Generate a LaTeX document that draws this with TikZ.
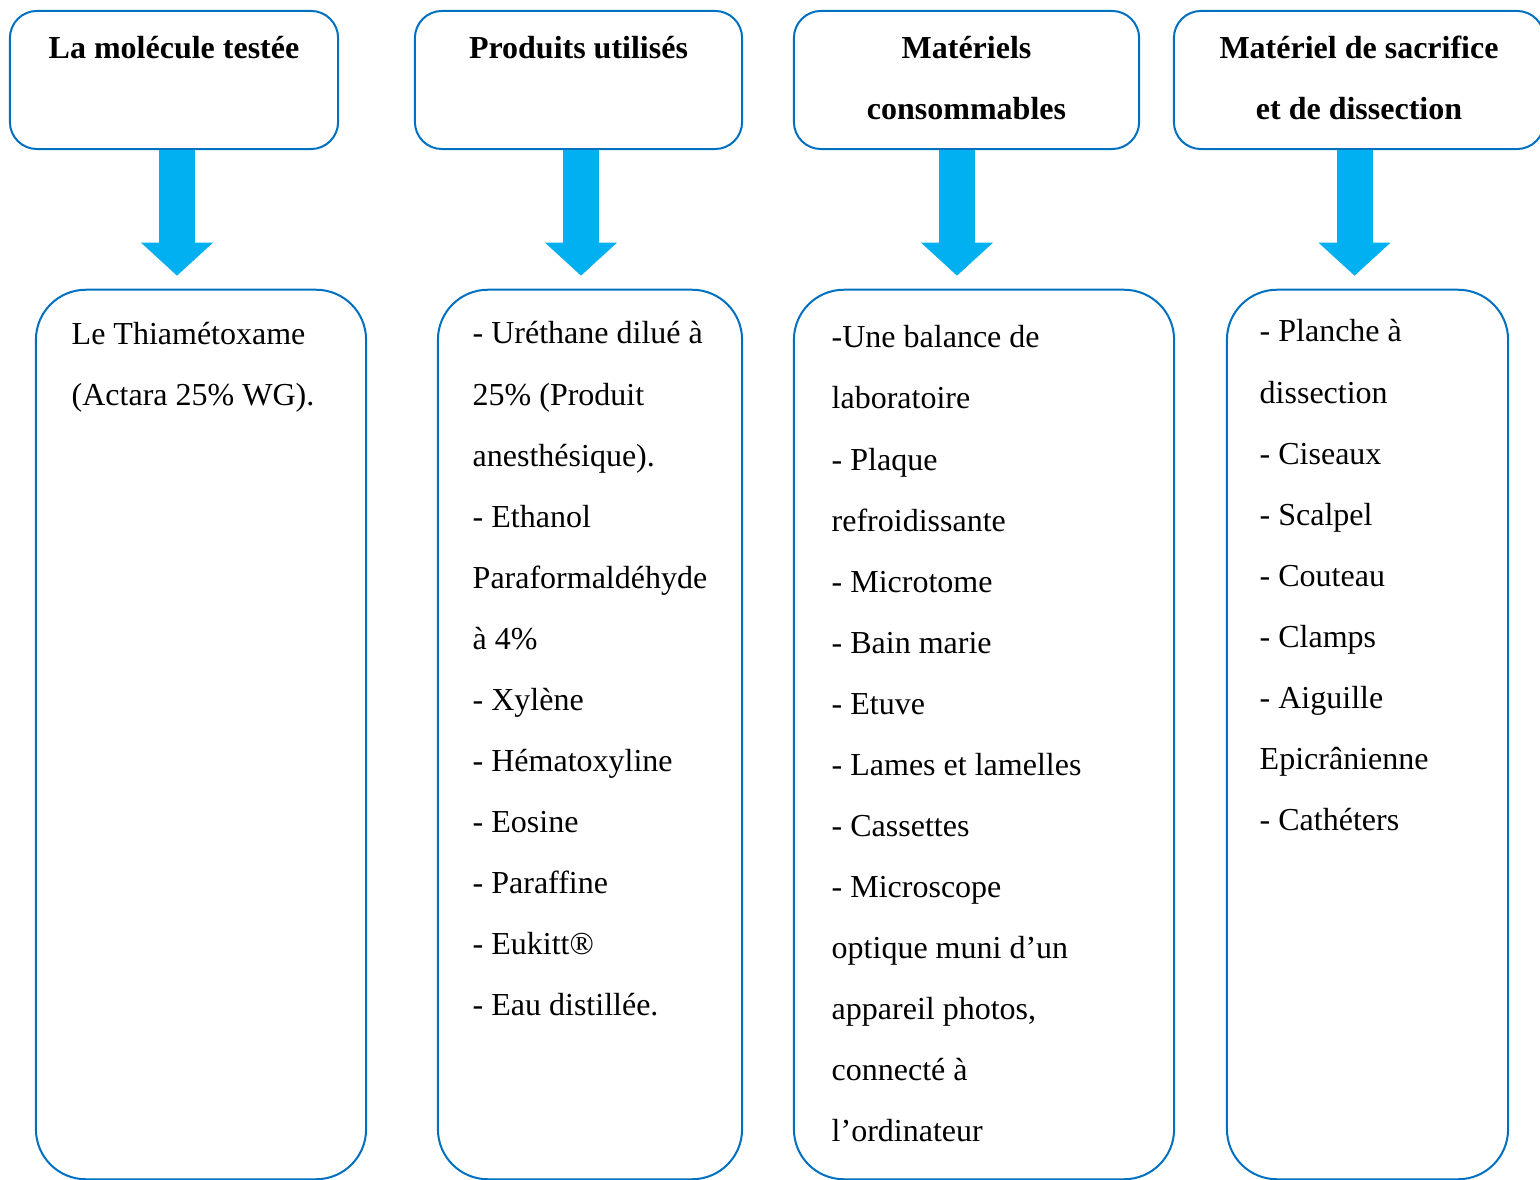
\documentclass[tikz,border=0pt]{standalone}
\usepackage{fontspec}
\setmainfont{Liberation Serif}
\usepackage{xcolor}
\usetikzlibrary{arrows.meta}
\definecolor{boxblue}{HTML}{0070C0}
\definecolor{arrowblue}{HTML}{00B0F0}

\begin{document}
\begin{tikzpicture}[x=0.01cm, y=-0.01cm,
          headbox/.style={draw=boxblue, line width=0.02cm, rounded corners=0.27cm,
            minimum height=1.38cm, inner sep=0pt},
          listbox/.style={draw=boxblue, line width=0.02cm, rounded corners=0.5cm,
            minimum height=8.89cm, inner sep=0pt},
          headtext/.style={font=\bfseries\fontsize{9.1}{17.36}\selectfont,
            align=center, inner sep=0pt, anchor=north},
          listtext/.style={font=\fontsize{9.1}{17.36}\selectfont,
            align=left, inner sep=0pt, anchor=north west},
          bigarrow/.style={arrowblue, line width=0.36cm,
            -{Triangle[width=0.70cm,length=0.33cm]}, shorten >=0.13cm}]
          \clip (0,0) rectangle (1540,1180);

          % top boxes
          \node[headbox, minimum width=3.28cm] (molecule) at (174,80) {};
          \node[headbox, minimum width=3.27cm] (produits) at (578.5,80) {};
          \node[headbox, minimum width=3.45cm] (materiels) at (966.5,80) {};
          \node[headbox, minimum width=3.70cm] (sacrifice) at (1359,80) {};

          \node[headtext] (moleculeT) at (174,36) {La molécule testée};
          \node[headtext] (produitsT) at (578.5,36) {Produits utilisés};
          \node[headtext] (materielsT) at (966.5,36) {Matériels\\consommables};
          \node[headtext] (sacrificeT) at (1359,35) {Matériel de sacrifice\\et de dissection};

          % lists
          \node[listbox, minimum width=3.30cm] (moleculeL) at (201,734.5) {};
          \node[listbox, minimum width=3.04cm] (produitsL) at (590,734.5) {};
          \node[listbox, minimum width=3.80cm] (materielsL) at (984,734.5) {};
          \node[listbox, minimum width=2.81cm] (sacrificeL) at (1367.5,734.5) {};

          \node[listtext] (moleculeX) at (71,322) {Le Thiamétoxame\\(Actara 25\% WG).};
          \node[listtext] (produitsX) at (472,321) {- Uréthane dilué à\\25\% (Produit\\anesthésique).\\
            - Ethanol\\Paraformaldéhyde\\à 4\%\\- Xylène\\- Hématoxyline\\- Eosine\\
            - Paraffine\\- Eukitt®\\- Eau distillée.};
          \node[listtext] (materielsX) at (831,325) {-Une balance de\\laboratoire\\- Plaque\\
            refroidissante\\- Microtome\\- Bain marie\\- Etuve\\- Lames et lamelles\\
            - Cassettes\\- Microscope\\optique muni d’un\\appareil photos,\\connecté à\\l’ordinateur};
          \node[listtext] (sacrificeX) at (1259,319) {- Planche à\\dissection\\- Ciseaux\\- Scalpel\\
            - Couteau\\- Clamps\\- Aiguille\\Epicrânienne\\- Cathéters};

          % arrows
          \draw[bigarrow] ([xshift=0.03cm]molecule.south) -- ([xshift=0.03cm]molecule.south |- moleculeL.north);
          \draw[bigarrow] ([xshift=0.025cm]produits.south) -- ([xshift=0.025cm]produits.south |- produitsL.north);
          \draw[bigarrow] ([xshift=-0.095cm]materiels.south) -- ([xshift=-0.095cm]materiels.south |- materielsL.north);
          \draw[bigarrow] ([xshift=-0.045cm]sacrifice.south) -- ([xshift=-0.045cm]sacrifice.south |- sacrificeL.north);
\end{tikzpicture}
\end{document}
